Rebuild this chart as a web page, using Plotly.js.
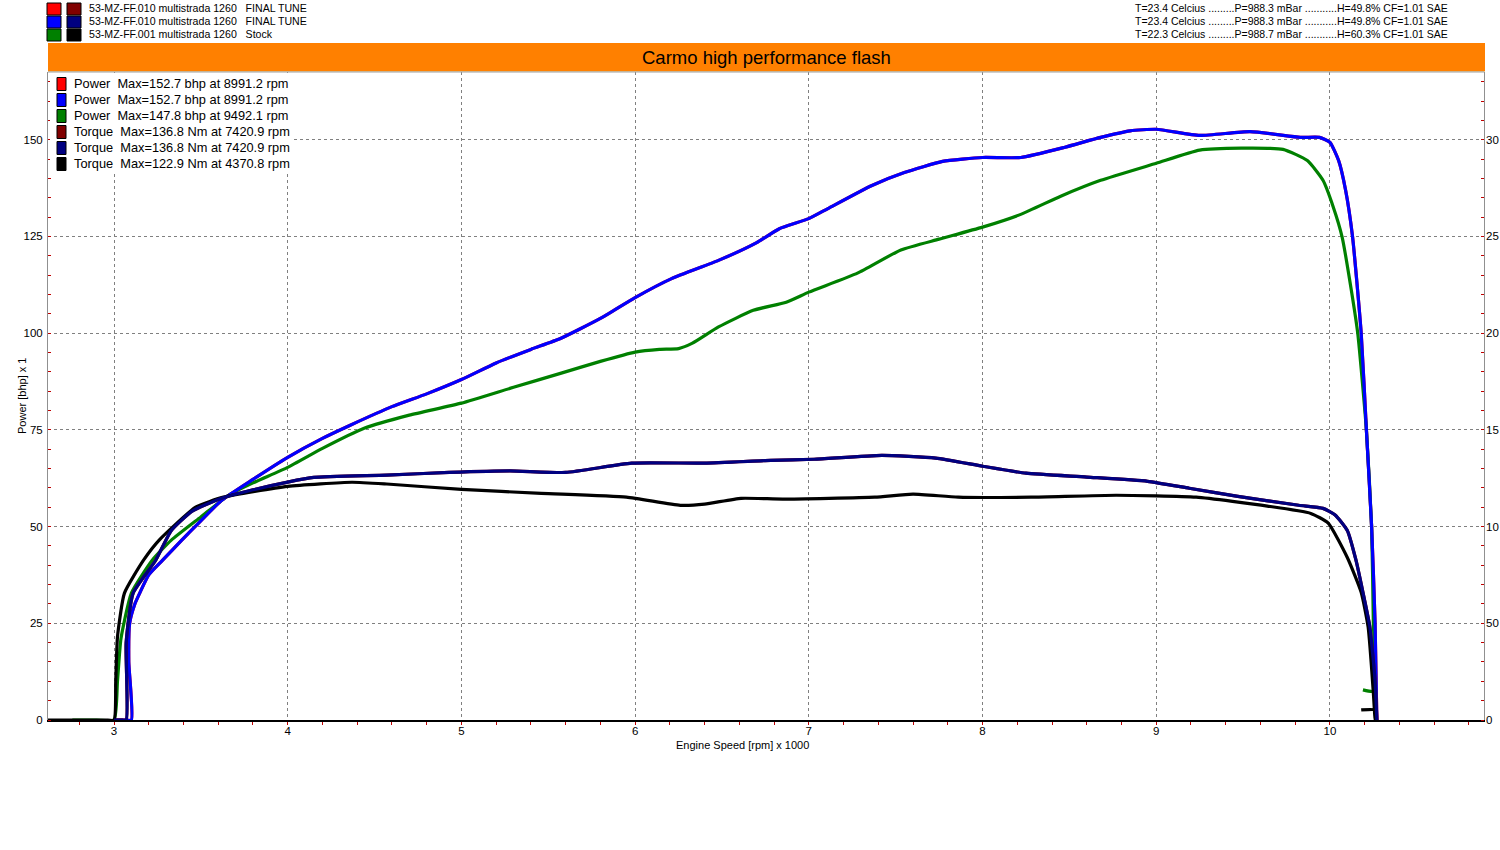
<!DOCTYPE html>
<html>
<head>
<meta charset="utf-8">
<script src="https://cdn.plot.ly/plotly-3.0.1.min.js"></script>
<style>html,body{margin:0;padding:0;background:#fff;}#chart{width:1500px;height:850px;}</style>
</head>
<body>
<div id="chart"></div>
<script>
// ---------- DATA ----------
// FINAL TUNE (run .010, drawn twice: red/dark-red and blue/dark-blue, identical)
const rpmPowerFinal = [3.00, 3.06, 3.10, 3.085, 3.09, 3.12, 3.15, 3.20, 3.28, 3.39, 3.50, 3.62, 3.80, 4.00, 4.20, 4.36, 4.60, 4.80, 5.00, 5.20, 5.40, 5.57, 5.80, 6.00, 6.21, 6.48, 6.70, 6.83, 7.00, 7.11, 7.36, 7.55, 7.77, 8.00, 8.22, 8.47, 8.68, 8.85, 9.00, 9.25, 9.54, 9.83, 9.94, 10.00, 10.05, 10.09, 10.13, 10.18, 10.21, 10.24, 10.26, 10.27];
const powerFinal = [0, 0, 0, 15, 25, 30, 33, 37.5, 41.3, 46.5, 51.5, 56.8, 62.2, 67.9, 72.8, 76.2, 81, 84.3, 88, 92.3, 95.8, 98.6, 103.8, 109.2, 114.1, 118.8, 123.4, 127, 129.6, 132.2, 138.1, 141.5, 144.4, 145.4, 145.4, 148, 150.6, 152.3, 152.7, 151.1, 152.1, 150.6, 150.6, 149.3, 144.6, 137, 125, 100, 75, 50, 25, 0];
const rpmTorqueFinal = [3.00, 3.04, 3.07, 3.07, 3.11, 3.24, 3.33, 3.45, 3.62, 3.80, 4.00, 4.15, 4.57, 4.93, 5.28, 5.60, 5.98, 6.40, 6.78, 7.03, 7.42, 7.73, 8.00, 8.25, 8.60, 8.95, 9.19, 9.47, 9.82, 9.96, 10.03, 10.10, 10.15, 10.19, 10.23, 10.26, 10.27];
const torqueFinal = [0, 0, 0, 40, 65.6, 82.6, 98, 108, 114.6, 119, 123, 125.4, 126.6, 128, 128.8, 128, 132.8, 132.8, 134.2, 134.8, 136.8, 135.4, 131.2, 127.6, 125.6, 123.4, 119.8, 115.6, 111, 109.4, 106, 98, 82.6, 66, 48, 20, 0];

// STOCK (run .001)
const rpmPowerStock = [2.76, 2.9, 3.00, 3.02, 3.04, 3.10, 3.22, 3.33, 3.50, 3.66, 3.80, 4.00, 4.20, 4.44, 4.70, 5.00, 5.30, 5.57, 5.80, 6.00, 6.14, 6.25, 6.33, 6.48, 6.68, 6.87, 7.00, 7.28, 7.53, 7.75, 8.00, 8.22, 8.45, 8.68, 9.00, 9.25, 9.49, 9.73, 9.87, 9.96, 10.02, 10.07, 10.12, 10.16, 10.21, 10.24, 10.25, 10.255, 10.19];
const powerStock = [0, 0, 0, 10, 21, 32.8, 41.3, 46.5, 52.5, 58.1, 61.3, 65.3, 70.2, 75.4, 78.8, 81.9, 86, 89.6, 92.7, 95.1, 95.8, 96.0, 97.4, 101.6, 105.9, 108, 110.6, 115.5, 121.5, 124.3, 127.4, 130.7, 135.4, 139.5, 143.9, 147.3, 147.8, 147.5, 144.6, 139.5, 132.5, 124.9, 112, 100, 75, 50, 25, 7.5, 7.8];
const rpmTorqueStock = [2.62, 2.8, 2.95, 3.00, 3.01, 3.02, 3.06, 3.17, 3.26, 3.47, 3.63, 4.00, 4.37, 4.57, 5.00, 5.46, 5.95, 6.26, 6.40, 6.61, 6.85, 7.38, 7.60, 7.86, 8.28, 8.77, 9.23, 9.64, 9.89, 9.99, 10.10, 10.18, 10.22, 10.25, 10.26, 10.26, 10.18];
const torqueStock = [0, 0, 0, 0, 20, 43, 65.6, 82.6, 93, 110, 115.2, 120.8, 122.9, 122, 119.2, 117.2, 115.2, 111, 111.6, 114.6, 114.2, 115.2, 116.8, 115.2, 115.2, 116.2, 115.2, 110.6, 106.8, 101.8, 84, 66, 48, 14, 0, 5.2, 5.2];

// Axis ticks
const xTickVals = [3, 4, 5, 6, 7, 8, 9, 10];
const yTickVals = [0, 25, 50, 75, 100, 125, 150];
const y2TickVals = [0, 50, 100, 150, 200, 250, 300];
const y2TickText = ['0', '50', '10', '15', '20', '25', '30'];

// Header / legend texts
const runNames = ['53-MZ-FF.010 multistrada 1260\u00a0\u00a0\u00a0FINAL TUNE', '53-MZ-FF.010 multistrada 1260\u00a0\u00a0\u00a0FINAL TUNE', '53-MZ-FF.001 multistrada 1260\u00a0\u00a0\u00a0Stock'];
const runConditions = ['T=23.4 Celcius .........P=988.3 mBar ...........H=49.8% CF=1.01 SAE', 'T=23.4 Celcius .........P=988.3 mBar ...........H=49.8% CF=1.01 SAE', 'T=22.3 Celcius .........P=988.7 mBar ...........H=60.3% CF=1.01 SAE'];
const legendLabels = ['Power\u00a0\u00a0Max=152.7 bhp at 8991.2 rpm', 'Power\u00a0\u00a0Max=152.7 bhp at 8991.2 rpm', 'Power\u00a0\u00a0Max=147.8 bhp at 9492.1 rpm', 'Torque\u00a0\u00a0Max=136.8 Nm at 7420.9 rpm', 'Torque\u00a0\u00a0Max=136.8 Nm at 7420.9 rpm', 'Torque\u00a0\u00a0Max=122.9 Nm at 4370.8 rpm'];
const powerColors = ['#ff0000', '#0000ff', '#008000'];
const torqueColors = ['#800000', '#000080', '#000000'];
const chartTitle = 'Carmo high performance flash';

// ---------- LAYOUT HELPERS (pixel -> paper) ----------
const L = 48, R = 1484, T = 72, B = 720;
const PX = v => (v - L) / (R - L);
const PY = v => (B - v) / (B - T);
const FONT = 'Liberation Sans, Arial, sans-serif';

const lw = 3.2;
const traces = [
  {x: rpmTorqueFinal, y: torqueFinal, yaxis: 'y2', line: {color: torqueColors[0], width: lw}},
  {x: rpmPowerFinal, y: powerFinal, yaxis: 'y', line: {color: powerColors[0], width: lw}},
  {x: rpmTorqueStock, y: torqueStock, yaxis: 'y2', line: {color: torqueColors[2], width: lw}},
  {x: rpmPowerStock, y: powerStock, yaxis: 'y', line: {color: powerColors[2], width: lw}},
  {x: rpmTorqueFinal, y: torqueFinal, yaxis: 'y2', line: {color: torqueColors[1], width: lw}},
  {x: rpmPowerFinal, y: powerFinal, yaxis: 'y', line: {color: powerColors[1], width: lw}}
].map(t => {
  t.line.shape = 'spline';
  t.line.smoothing = 0.5;
  return Object.assign({type: 'scatter', mode: 'lines', hoverinfo: 'skip', showlegend: false, cliponaxis: false}, t);
});

const shapes = [];
const annotations = [];

// orange title bar
shapes.push({type: 'rect', xref: 'paper', yref: 'paper', x0: PX(48), x1: PX(1485), y0: PY(71.5), y1: PY(43), fillcolor: '#ff8000', line: {width: 0}, layer: 'above'});
shapes.push({type: 'line', xref: 'paper', yref: 'paper', x0: PX(48), x1: PX(1485), y0: PY(71.5), y1: PY(71.5), line: {color: '#e8c890', width: 1}, layer: 'above'});
annotations.push({xref: 'paper', yref: 'paper', x: PX(766), y: PY(57), text: chartTitle, showarrow: false, xanchor: 'center', yanchor: 'middle', font: {family: FONT, size: 18.5, color: '#000'}});

// top gray border of plot
shapes.push({type: 'line', xref: 'paper', yref: 'paper', x0: 0, x1: 1, y0: 1, y1: 1, line: {color: '#a0a0a0', width: 1}, layer: 'above'});

// header run list
for (let i = 0; i < 3; i++) {
  const yc = 9 + i * 13;
  shapes.push({type: 'rect', xref: 'paper', yref: 'paper', x0: PX(47), x1: PX(61), y0: PY(yc + 6), y1: PY(yc - 6), fillcolor: powerColors[i], line: {color: '#000', width: 1}, layer: 'above'});
  shapes.push({type: 'rect', xref: 'paper', yref: 'paper', x0: PX(67), x1: PX(81), y0: PY(yc + 6), y1: PY(yc - 6), fillcolor: torqueColors[i], line: {color: '#000', width: 1}, layer: 'above'});
  annotations.push({xref: 'paper', yref: 'paper', x: PX(87), y: PY(yc - 0.5), text: runNames[i], showarrow: false, xanchor: 'left', yanchor: 'middle', font: {family: FONT, size: 10.6, color: '#000'}});
  annotations.push({xref: 'paper', yref: 'paper', x: PX(1133), y: PY(yc - 0.5), text: runConditions[i], showarrow: false, xanchor: 'left', yanchor: 'middle', font: {family: FONT, size: 10.5, color: '#000'}});
}

// in-plot legend with white background
shapes.push({type: 'rect', xref: 'paper', yref: 'paper', x0: PX(50), x1: PX(292), y0: PY(171), y1: PY(73), fillcolor: '#ffffff', line: {width: 0}, layer: 'above'});
const legColors = powerColors.concat(torqueColors);
for (let i = 0; i < 6; i++) {
  const yc = 84 + i * 16;
  shapes.push({type: 'rect', xref: 'paper', yref: 'paper', x0: PX(57), x1: PX(66), y0: PY(yc + 6.5), y1: PY(yc - 6.5), fillcolor: legColors[i], line: {color: '#000', width: 1}, layer: 'above'});
  annotations.push({xref: 'paper', yref: 'paper', x: PX(72), y: PY(yc - 0.5), text: legendLabels[i], showarrow: false, xanchor: 'left', yanchor: 'middle', font: {family: FONT, size: 12.8, color: '#000'}});
}

// axis titles
annotations.push({xref: 'paper', yref: 'paper', x: PX(742), y: PY(745), text: 'Engine Speed [rpm] x 1000', showarrow: false, xanchor: 'center', yanchor: 'middle', font: {family: FONT, size: 11, color: '#000'}});
annotations.push({xref: 'paper', yref: 'paper', x: PX(22), y: PY(396), text: 'Power [bhp] x 1', showarrow: false, textangle: -90, xanchor: 'center', yanchor: 'middle', font: {family: FONT, size: 11, color: '#000'}});

const gridStyle = {gridcolor: '#808080', gridwidth: 1, griddash: '3px,3px'};
const minorRed = '#c00000';

const layout = {
  width: 1500, height: 850,
  margin: {l: L, r: 1500 - R, t: T, b: 850 - B, pad: 0},
  paper_bgcolor: '#ffffff', plot_bgcolor: '#ffffff',
  showlegend: false, hovermode: false,
  font: {family: FONT, size: 11, color: '#000'},
  xaxis: Object.assign({
    range: [2.62, 10.887], tickmode: 'array', tickvals: xTickVals, ticks: '',
    showline: true, linecolor: '#000000', linewidth: 1.5, zeroline: false, showgrid: true,
    tickfont: {family: FONT, size: 11.5, color: '#000'},
    minor: {dtick: 0.2, tick0: 0, ticks: 'outside', ticklen: 3, tickcolor: minorRed, tickwidth: 1, showgrid: false}
  }, gridStyle),
  yaxis: Object.assign({
    range: [0, 167.5], tickmode: 'array', tickvals: yTickVals, ticks: '',
    showline: true, linecolor: '#909090', linewidth: 1, mirror: true, zeroline: false, showgrid: true,
    tickfont: {family: FONT, size: 11.5, color: '#000'}, ticklabelstandoff: 2,
    minor: {dtick: 5, tick0: 0, ticks: 'inside', ticklen: 3, tickcolor: minorRed, tickwidth: 1, showgrid: false}
  }, gridStyle),
  yaxis2: {
    overlaying: 'y', side: 'right', range: [0, 335], tickmode: 'array', tickvals: y2TickVals, ticktext: y2TickText,
    ticks: '', showgrid: false, zeroline: false, showline: false,
    tickfont: {family: FONT, size: 11.5, color: '#000'}, ticklabelstandoff: 1,
    minor: {dtick: 10, tick0: 0, ticks: 'inside', ticklen: 3, tickcolor: minorRed, tickwidth: 1, showgrid: false}
  },
  shapes: shapes,
  annotations: annotations
};

Plotly.newPlot('chart', traces, layout, {staticPlot: true, displayModeBar: false});
</script>
</body>
</html>
